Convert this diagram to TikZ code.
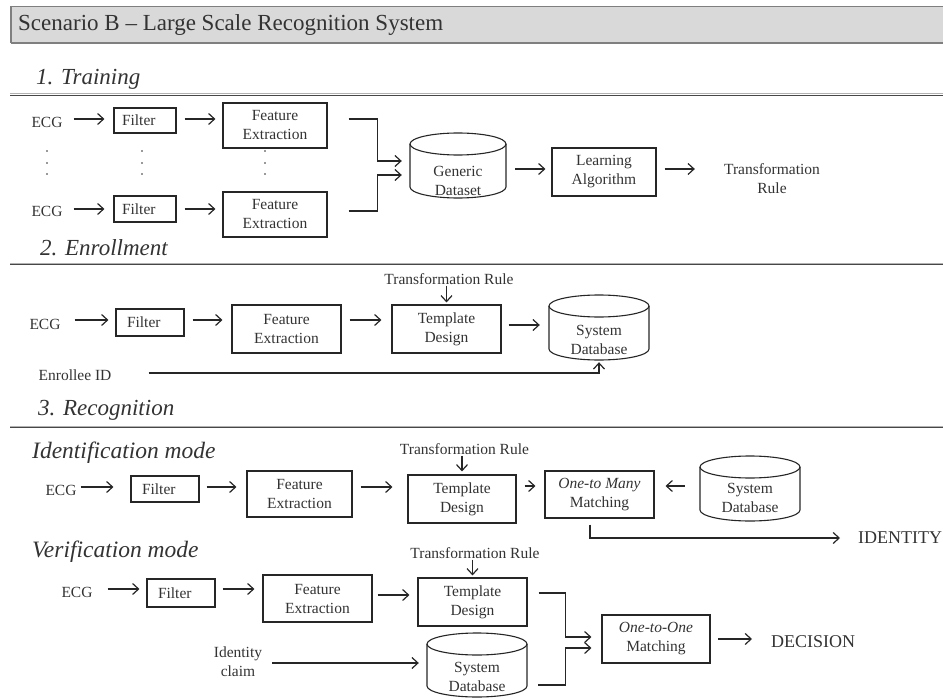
\documentclass[tikz,border=0pt]{standalone}
\usepackage{fontspec}
\setmainfont{Liberation Serif}
\usetikzlibrary{arrows.meta,calc}
\definecolor{txtc}{HTML}{333333}
\definecolor{linec}{HTML}{262626}
\definecolor{barfill}{HTML}{D9D9D9}
\definecolor{barline}{HTML}{7F7F7F}
\tikzset{
 body/.style={font=\fontsize{15.5pt}{19pt}\selectfont, text=txtc, align=center, inner sep=0pt},
 box/.style={draw=linec, line width=1.1pt, body},
 filt/.style={box, text width=46pt, align=left},
 arr/.style={draw=linec, line width=1.2pt, -{Straight Barb[length=6pt,width=11pt,line width=1.2pt]}},
 conn/.style={draw=linec, line width=1.1pt},
 cylgeo/.style={inner sep=0pt, draw=none},
 sect/.style={font=\fontsize{23pt}{27pt}\selectfont\itshape, text=txtc, inner sep=0pt, anchor=west},
 mode/.style={font=\fontsize{23.5pt}{28pt}\selectfont\itshape, text=txtc, inner sep=0pt, anchor=west},
 big/.style={font=\fontsize{18pt}{22pt}\selectfont, text=txtc, inner sep=0pt, anchor=west},
}
\newcommand{\dbcyl}[7]{%
 \node[cylgeo, minimum width={2*#5}, minimum height={#4-#3}] (#1) at (#2,{(#3+#4)/2}) {};
 \draw[conn] (#2-#5,#3+11) -- (#2-#5,#4-11) arc[start angle=180,end angle=0,x radius=#5,y radius=11] -- (#2+#5,#3+11);
 \draw[conn] (#2,#3+11) ellipse[x radius=#5, y radius=11];
 \node[body] at ([yshift=-#6pt]#1.center) {#7};
}
\begin{document}
\begin{tikzpicture}[x=1pt,y=-1pt]
\useasboundingbox (0,0) rectangle (943,698);
% title bar
\fill[barfill] (11,6) rectangle (943,43);
\draw[barline, line width=0.8pt] (11,6) -- (943,6);
\draw[barline, line width=1.8pt] (11,43) -- (943,43);
\draw[barline, line width=1.2pt] (11,6) -- (11,43);
\node[anchor=west, font=\fontsize{23pt}{27pt}\selectfont, text=txtc, inner sep=0pt] (title) at (18,25) {Scenario B – Large Scale Recognition System};
% section rules
\foreach \y in {95,264,427} {
 \draw[line width=1pt, color=gray!60] (10,\y-1) -- (943,\y-1);
 \draw[line width=1.2pt, color=linec!85] (10,\y+0.6) -- (943,\y+0.6);
}
\node[sect] (h1) at (36,79) {1. Training};
\node[sect] (h2) at (40,248) {2. Enrollment};
\node[sect] (h3) at (38,410) {3. Recognition};
\node[mode] (m1) at (32,453) {Identification mode};
\node[mode] (m2) at (32,552) {Verification mode};

% ---------- Training ----------
\node[body] (ecgA) at (47,122) {ECG};
\node[filt, minimum width=62pt, minimum height=25pt] (fA) at (145,120.5) {Filter};
\node[box, minimum width=104pt, minimum height=45pt] (feA) at (275,125.5) {Feature\\Extraction};
\node[body] (ecgB) at (47,211) {ECG};
\node[filt, minimum width=62pt, minimum height=26pt] (fB) at (145,209) {Filter};
\node[box, minimum width=104pt, minimum height=45pt] (feB) at (275,214.5) {Feature\\Extraction};
\foreach \x in {47,142,265} \foreach \y in {151,163,174} \fill[txtc] (\x,\y) circle (0.8pt);
\dbcyl{gd}{458}{133}{198}{48}{15}{Generic\\Dataset}
\node[box, minimum width=104pt, minimum height=48pt] (la) at (604,172) {Learning\\Algorithm};
\node[body] (trA) at (772,178.5) {Transformation\\Rule};

\draw[arr, shorten <=11pt, shorten >=9pt] ([yshift=1.5pt]ecgA.east |- fA.west) -- ([yshift=1.5pt]fA.west);
\draw[arr, shorten <=8pt, shorten >=7pt] ([yshift=1.5pt]fA.east) -- ([yshift=1.5pt]fA.east -| feA.west);
\draw[arr, shorten <=11pt, shorten >=9pt] (ecgB.east |- fB.west) -- (fB.west);
\draw[arr, shorten <=8pt, shorten >=7pt] (fB.east) -- (fB.east -| feB.west);
\draw[arr] ([shift={(21,-6.5)}]feA.east) -- ++(29,0) |- ([shift={(-8,-4.5)}]gd.west);
\draw[arr] ([shift={(21,-3.5)}]feB.east) -- ++(29,0) |- ([shift={(-8,9.5)}]gd.west);
\draw[arr] ([shift={(9,3.5)}]gd.east) -- ([shift={(-6,-3)}]la.west);
\draw[arr, shorten <=8pt, shorten >=29pt] ([yshift=3pt]la.east) -- ([yshift=3pt]la.east -| trA.west);

% ---------- Enrollment ----------
\node[body] (ecgC) at (45,324) {ECG};
\node[filt, minimum width=68pt, minimum height=27pt] (fC) at (150,322.5) {Filter};
\node[box, minimum width=109pt, minimum height=48pt] (feC) at (286.5,329) {Feature\\Extraction};
\node[box, minimum width=109pt, minimum height=48pt] (tdC) at (446.5,329) {Template\\Design};
\node[body] (trC) at (449,279) {Transformation Rule};
\dbcyl{dbC}{599}{295}{360}{50}{12.5}{System\\Database}
\node[body] (enr) at (75,375) {Enrollee ID};

\draw[arr, shorten <=14pt, shorten >=7pt] ([yshift=2.5pt]ecgC.east |- fC.west) -- ([yshift=2.5pt]fC.west);
\draw[arr, shorten <=8pt, shorten >=9pt] ([yshift=2.5pt]fC.east) -- ([yshift=2.5pt]fC.east -| feC.west);
\draw[arr, shorten <=8pt, shorten >=10pt] ([yshift=9pt]feC.east) -- ([yshift=9pt]tdC.west);
\draw[arr, shorten <=1pt, shorten >=2pt] (tdC.north |- trC.south) -- (tdC.north);
\draw[arr, shorten <=7pt, shorten >=9pt] ([yshift=4pt]tdC.east) -- ([yshift=4pt]tdC.east -| dbC.west);
\draw[arr, shorten <=37pt, shorten >=2pt] ([yshift=2pt]enr.east) -| (dbC.south);

% ---------- Identification ----------
\node[body] (ecgD) at (61,490) {ECG};
\node[filt, minimum width=68pt, minimum height=26pt] (fD) at (165,489) {Filter};
\node[box, minimum width=105pt, minimum height=46pt] (feD) at (299.5,494) {Feature\\Extraction};
\node[box, minimum width=108pt, minimum height=48pt] (tdD) at (462,499) {Template\\Design};
\node[body] (trD) at (464.5,449) {Transformation Rule};
\node[box, minimum width=109pt, minimum height=47pt] (omD) at (599.5,494.5) {\textit{One-to Many}\\Matching};
\dbcyl{dbD}{750}{456}{521}{50}{9.5}{System\\Database}
\node[big] (idt) at (858,538) {IDENTITY};

\draw[arr, shorten <=4pt, shorten >=17pt] ([yshift=2pt]ecgD.east |- fD.west) -- ([yshift=2pt]fD.west);
\draw[arr, shorten <=7pt, shorten >=10pt] ([yshift=2pt]fD.east) -- ([yshift=2pt]fD.east -| feD.west);
\draw[arr, shorten <=8pt, shorten >=15pt] ([yshift=7pt]feD.east) -- ([yshift=7pt]feD.east -| tdD.west);
\draw[arr, shorten <=1pt, shorten >=3pt] (tdD.north |- trD.south) -- (tdD.north);
\draw[arr, shorten <=8pt, shorten >=9pt] ([yshift=13pt]tdD.east) -- ([yshift=13pt]tdD.east -| omD.west);
\draw[arr, shorten <=15pt, shorten >=11pt] ([yshift=2.5pt]dbD.west) -- ([yshift=2.5pt]dbD.west -| omD.east);
\draw[arr, shorten <=6pt, shorten >=18pt] ([xshift=-9.5pt]omD.south) |- (idt.west);

% ---------- Verification ----------
\node[body] (ecgE) at (77,592) {ECG};
\node[filt, minimum width=68pt, minimum height=28pt] (fE) at (181,593) {Filter};
\node[box, minimum width=109pt, minimum height=47pt] (feE) at (317.5,598.5) {Feature\\Extraction};
\node[box, minimum width=109pt, minimum height=48pt] (tdE) at (472.5,602) {Template\\Design};
\node[body] (trE) at (475,553) {Transformation Rule};
\node[box, minimum width=108pt, minimum height=48pt] (ooE) at (656,639) {\textit{One-to-One}\\Matching};
\node[big] (dec) at (771,642) {DECISION};
\dbcyl{dbE}{477}{633}{697}{50}{11.5}{System\\Database}
\node[body] (clm) at (238,661.5) {Identity\\claim};

\draw[arr, shorten <=15pt, shorten >=7pt] ([yshift=4pt]ecgE.east |- fE.west) -- ([yshift=4pt]fE.west);
\draw[arr, shorten <=7pt, shorten >=8pt] ([yshift=4pt]fE.east) -- ([yshift=4pt]fE.east -| feE.west);
\draw[arr, shorten <=5pt, shorten >=8pt] ([yshift=3.5pt]feE.east) -- ([yshift=3.5pt]feE.east -| tdE.west);
\draw[arr, shorten <=1pt, shorten >=2pt] (tdE.north |- trE.south) -- (tdE.north);
\draw[arr] ([shift={(11,-9)}]tdE.east) -- ++(27,0) |- ([shift={(-10,-2)}]ooE.west);
\draw[arr] ([shift={(11,20)}]dbE.east) -- ++(27,0) |- ([shift={(-10,9)}]ooE.west);
\draw[arr, shorten <=7.5pt, shorten >=19pt] (ooE.east) -- (ooE.east -| dec.west);
\draw[arr, shorten <=10pt, shorten >=8pt] ([yshift=-1.5pt]clm.east) -- ([yshift=-1.5pt]clm.east -| dbE.west);
\end{tikzpicture}
\end{document}
